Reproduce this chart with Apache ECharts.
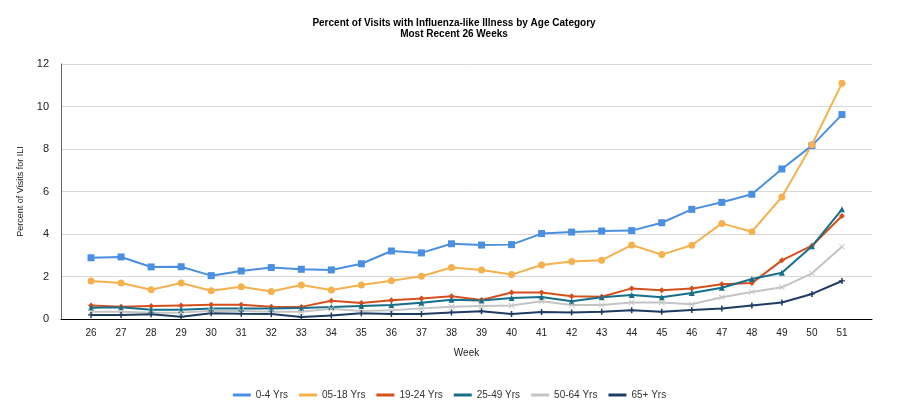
<!DOCTYPE html>
<html>
<head>
<meta charset="utf-8">
<script src="https://cdn.jsdelivr.net/npm/echarts@6/dist/echarts.min.js"></script>
<style>
  html, body { margin: 0; padding: 0; background: #fff; }
  #chart { width: 899px; height: 418px; }
</style>
</head>
<body>
<div id="chart"></div>
<script>
const weeks = [26, 27, 28, 29, 30, 31, 32, 33, 34, 35, 36, 37, 38, 39, 40, 41, 42, 43, 44, 45, 46, 47, 48, 49, 50, 51];

const age0to4 = [2.88, 2.92, 2.45, 2.46, 2.04, 2.26, 2.42, 2.34, 2.31, 2.60, 3.20, 3.11, 3.54, 3.48, 3.50, 4.02, 4.09, 4.14, 4.16, 4.53, 5.16, 5.49, 5.87, 7.06, 8.16, 9.62];
const age5to18 = [1.79, 1.69, 1.38, 1.69, 1.33, 1.52, 1.29, 1.60, 1.36, 1.60, 1.80, 2.01, 2.42, 2.31, 2.09, 2.54, 2.71, 2.77, 3.48, 3.03, 3.47, 4.50, 4.11, 5.74, 8.20, 11.09];
const age19to24 = [0.64, 0.58, 0.61, 0.64, 0.67, 0.67, 0.58, 0.57, 0.86, 0.75, 0.88, 0.97, 1.07, 0.89, 1.25, 1.25, 1.07, 1.05, 1.44, 1.35, 1.44, 1.63, 1.69, 2.76, 3.45, 4.85];
const age25to49 = [0.53, 0.55, 0.44, 0.44, 0.49, 0.49, 0.49, 0.52, 0.56, 0.61, 0.66, 0.77, 0.91, 0.87, 0.99, 1.04, 0.83, 1.02, 1.13, 1.02, 1.22, 1.47, 1.88, 2.18, 3.42, 5.16];
const age50to64 = [0.34, 0.34, 0.30, 0.30, 0.39, 0.38, 0.34, 0.34, 0.48, 0.38, 0.41, 0.50, 0.58, 0.61, 0.63, 0.83, 0.66, 0.66, 0.78, 0.78, 0.69, 1.02, 1.27, 1.49, 2.15, 3.40];
const age65plus = [0.19, 0.19, 0.22, 0.11, 0.27, 0.25, 0.24, 0.09, 0.17, 0.27, 0.24, 0.24, 0.31, 0.36, 0.24, 0.33, 0.31, 0.34, 0.41, 0.34, 0.42, 0.49, 0.64, 0.78, 1.18, 1.79];

const yTicks = [0, 2, 4, 6, 8, 10, 12];

const chart = echarts.init(document.getElementById("chart"));

const crossPath = "path://M0,4 L3,4 L3,0 L5,0 L5,4 L8,4 L8,6 L5,6 L5,10 L3,10 L3,6 L0,6 Z";
const starPath = "path://M1,0 L5,4 L9,0 L10,1 L6,5 L10,9 L9,10 L5,6 L1,10 L0,9 L4,5 L0,1 Z";

function line(name, values, color, symbol, size) {
  return {
    name: name,
    type: "line",
    data: values.map((v, i) => [weeks[i], v]),
    symbol: symbol,
    symbolSize: size,
    showSymbol: true,
    lineStyle: { color: color, width: 2 },
    itemStyle: { color: color },
  };
}

let option = {
  animation: false,
  title: {
    text: "Percent of Visits with Influenza-like Illness by Age Category\nMost Recent 26 Weeks",
    left: 449,
    top: 13,
    textAlign: "center",
    textStyle: {
      fontFamily: "Liberation Sans",
      fontSize: 10,
      fontWeight: "bold",
      color: "#000",
      lineHeight: 11,
    },
  },
  grid: {
    left: 61,
    right: 27,
    top: 64,
    bottom: 99,
  },
  legend: {
    bottom: 13,
    left: "center",
    itemGap: 11,
    itemWidth: 18,
    itemHeight: 3,
    icon: "rect",
    textStyle: {
      fontFamily: "Liberation Sans",
      fontSize: 10,
      color: "#333",
    },
  },
  xAxis: {
    type: "value",
    min: 25,
    max: 52,
    interval: 1,
    name: "Week",
    nameLocation: "middle",
    nameGap: 29,
    nameTextStyle: {
      fontFamily: "Liberation Sans",
      fontSize: 10,
      color: "#222",
    },
    axisLine: {
      lineStyle: { color: "#000", width: 1 },
    },
    axisTick: { show: false },
    splitLine: { show: false },
    axisLabel: {
      color: "#222",
      fontFamily: "Liberation Sans",
      fontSize: 10,
      margin: 9,
      formatter: (v) => (weeks.indexOf(v) >= 0 ? String(v) : ""),
    },
  },
  yAxis: {
    type: "value",
    min: yTicks[0],
    max: yTicks[yTicks.length - 1],
    interval: 2,
    name: "Percent of Visits for ILI",
    nameLocation: "middle",
    nameGap: 36,
    nameTextStyle: {
      fontFamily: "Liberation Sans",
      fontSize: 9,
      color: "#222",
    },
    axisLine: {
      show: true,
      lineStyle: { color: "#666", width: 1 },
    },
    axisTick: { show: false },
    splitLine: {
      lineStyle: { color: "#d9d9d9", width: 1 },
    },
    axisLabel: {
      color: "#222",
      fontFamily: "Liberation Sans",
      fontSize: 11,
      margin: 12,
    },
  },
  series: [
    line("0-4 Yrs", age0to4, "#4a8fe2", "rect", 7),
    line("05-18 Yrs", age5to18, "#f5b14e", "circle", 7),
    line("19-24 Yrs", age19to24, "#d4501e", "diamond", 6),
    line("25-49 Yrs", age25to49, "#166e8a", "triangle", 6),
    line("50-64 Yrs", age50to64, "#c4c4c4", starPath, 6),
    line("65+ Yrs", age65plus, "#1f3c62", crossPath, 6),
  ],
};

chart.setOption(option);
</script>
</body>
</html>
